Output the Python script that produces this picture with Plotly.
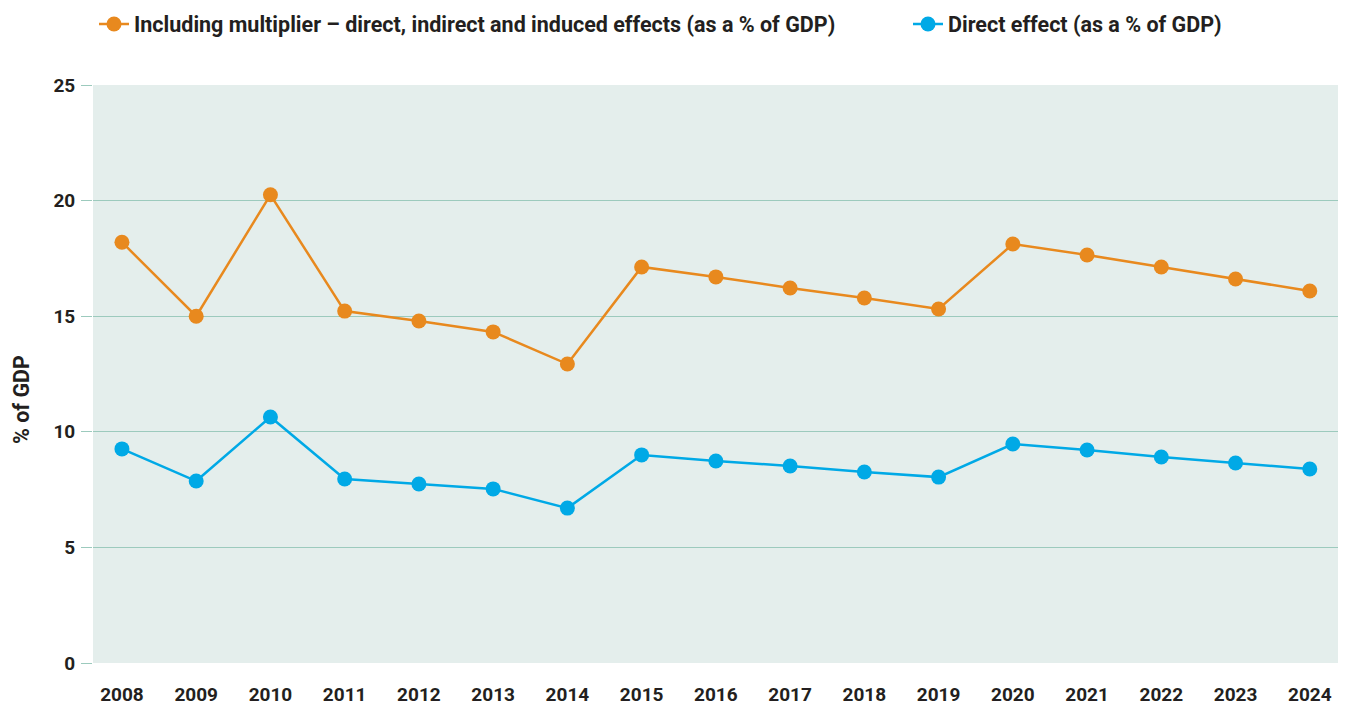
import plotly.graph_objects as go

years = [str(y) for y in range(2008, 2025)]
total_effect = [18.2, 15.0, 20.25, 15.22, 14.79, 14.32, 12.93, 17.13, 16.70, 16.22,
                15.79, 15.31, 18.12, 17.65, 17.13, 16.61, 16.09]
direct_effect = [9.26, 7.87, 10.64, 7.96, 7.74, 7.53, 6.70, 9.00, 8.74, 8.52,
                 8.26, 8.04, 9.47, 9.21, 8.91, 8.65, 8.39]
y_ticks = [0, 5, 10, 15, 20, 25]
y_title = "% of GDP"

ORANGE = "#e8891e"
BLUE = "#00a9e6"
GRID = "#9ccabd"
BG = "#e4eeec"
TXT = "#231f20"
FONT = "Roboto"
TICKF = dict(family=FONT, size=19, color=TXT, weight=700)
LEGF = dict(family=FONT, size=21.5, color=TXT, weight=700)
OFF = 8  # page body margin

fig = go.Figure()
fig.add_trace(go.Scatter(
    x=years, y=total_effect, mode="lines+markers",
    name="Including multiplier – direct, indirect and induced effects (as a % of GDP)",
    line=dict(color=ORANGE, width=2.5), marker=dict(color=ORANGE, size=15),
    legend="legend",
))
fig.add_trace(go.Scatter(
    x=years, y=direct_effect, mode="lines+markers",
    name="Direct effect (as a % of GDP)",
    line=dict(color=BLUE, width=2.5), marker=dict(color=BLUE, size=15),
    legend="legend2",
))

leg_common = dict(
    orientation="h", xanchor="left", xref="container",
    yanchor="middle", yref="container", y=1 - (24 - OFF) / 706,
    font=LEGF, itemwidth=30, bgcolor="rgba(0,0,0,0)",
)

L, T, PW, PH = 93 - OFF, 85 - OFF, 1245, 578

fig.update_layout(
    width=1353, height=706,
    margin=dict(l=L, r=15 + OFF, t=T, b=43 + OFF),
    paper_bgcolor="white", plot_bgcolor=BG,
    font=dict(family=FONT, size=19, color=TXT, weight=700),
    showlegend=True,
    legend=dict(x=(88 + 6 - OFF) / 1353, **leg_common),
    legend2=dict(x=(901 + 7 - OFF) / 1353, **leg_common),
    xaxis=dict(
        type="category", range=[-0.39, 16.38], automargin=False,
        showgrid=False, zeroline=False, showline=False, ticks="",
        ticklabelstandoff=18,
        tickfont=TICKF,
    ),
    yaxis=dict(
        range=[0, 25], tickvals=y_ticks, ticktext=[str(v) for v in y_ticks],
        automargin=False,
        showgrid=True, gridcolor=GRID, gridwidth=1.3,
        zeroline=False, showline=False,
        ticks="outside", ticklen=11, tickcolor=GRID, tickwidth=1.3,
        ticklabelstandoff=2,
        tickfont=TICKF,
    ),
    annotations=[dict(
        text=y_title, textangle=-90, showarrow=False, font=LEGF,
        xref="paper", yref="paper",
        x=((21 - OFF) - L) / PW, y=1 - ((400 - OFF) - T) / PH,
        xanchor="center", yanchor="middle",
    )],
)

fig.write_html("out.html")
